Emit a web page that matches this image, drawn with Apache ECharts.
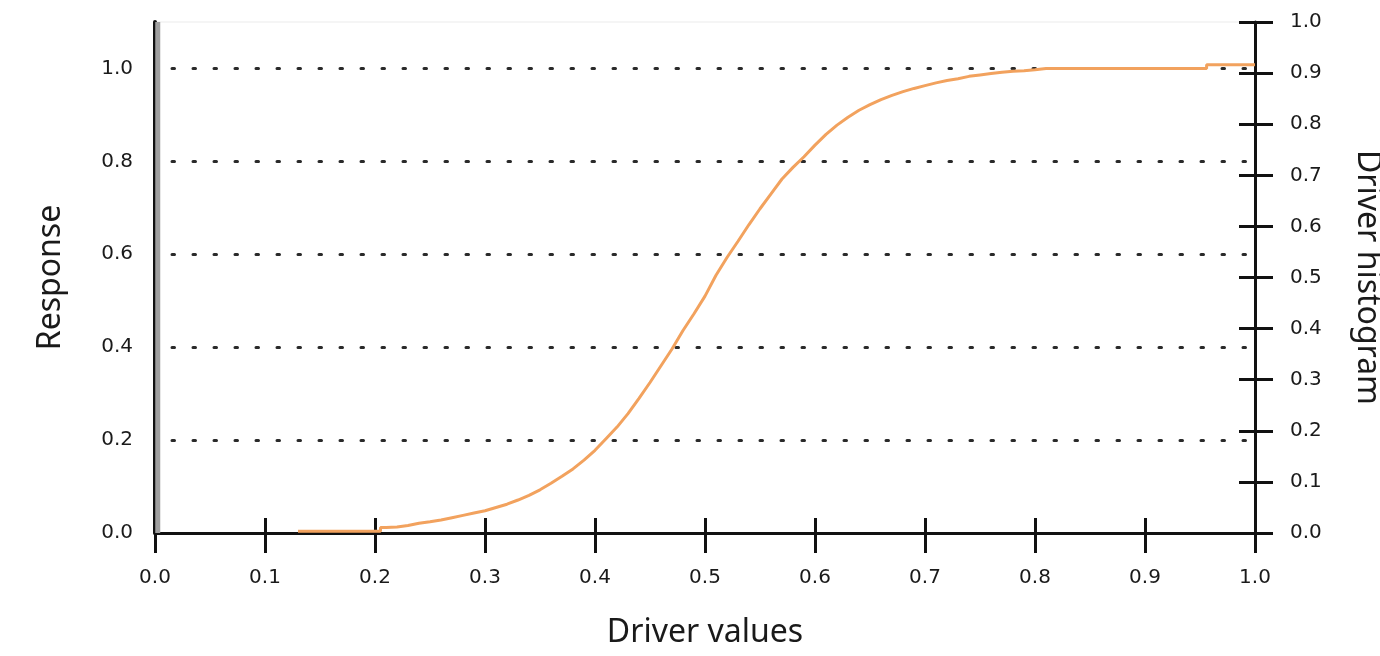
<!DOCTYPE html>
<html>
<head>
<meta charset="utf-8">
<script src="https://cdn.jsdelivr.net/npm/echarts@6/dist/echarts.min.js"></script>
<style>
  html, body { margin: 0; padding: 0; background: #ffffff; }
  #chart { width: 1380px; height: 656px; }
</style>
</head>
<body>
<div id="chart"></div>
<script>
// Response curve: driver value (x) and response (left axis)
const driverValues = [
  0.13, 0.14, 0.15, 0.16, 0.17, 0.18, 0.19, 0.20, 0.205, 0.205,
  0.21, 0.22, 0.23, 0.24, 0.25, 0.26, 0.27, 0.28, 0.29, 0.30,
  0.31, 0.32, 0.33, 0.34, 0.35, 0.36, 0.37, 0.38, 0.39, 0.40,
  0.41, 0.42, 0.43, 0.44, 0.45, 0.46, 0.47, 0.48, 0.49, 0.50,
  0.51, 0.52, 0.53, 0.54, 0.55, 0.56, 0.57, 0.58, 0.59, 0.60,
  0.61, 0.62, 0.63, 0.64, 0.65, 0.66, 0.67, 0.68, 0.69, 0.70,
  0.71, 0.72, 0.73, 0.74, 0.75, 0.76, 0.77, 0.78, 0.79, 0.80,
  0.81, 0.82, 0.83, 0.84, 0.85, 0.86, 0.87, 0.88, 0.89, 0.90,
  0.91, 0.92, 0.93, 0.94, 0.95, 0.956, 0.956, 0.97, 0.98, 0.99,
  1.00
];
const responseValues = [
  0.004, 0.004, 0.004, 0.004, 0.004, 0.004, 0.004, 0.004, 0.004, 0.012,
  0.012, 0.013, 0.016, 0.021, 0.024, 0.028, 0.033, 0.038, 0.043, 0.048,
  0.055, 0.062, 0.071, 0.081, 0.093, 0.107, 0.122, 0.138, 0.157, 0.178,
  0.203, 0.228, 0.257, 0.290, 0.324, 0.360, 0.396, 0.436, 0.472, 0.510,
  0.555, 0.593, 0.628, 0.664, 0.698, 0.730, 0.762, 0.787, 0.810, 0.835,
  0.858, 0.878, 0.895, 0.910, 0.922, 0.933, 0.942, 0.950, 0.957, 0.963,
  0.969, 0.974, 0.978, 0.983, 0.986, 0.989, 0.992, 0.994, 0.995, 0.997,
  1.000, 1.000, 1.000, 1.000, 1.000, 1.000, 1.000, 1.000, 1.000, 1.000,
  1.000, 1.000, 1.000, 1.000, 1.000, 1.000, 1.008, 1.008, 1.008, 1.008,
  1.008
];

// Driver histogram (right axis): bin centres and relative heights
const histBinCenters = [0.0025];
const histHeights = [1.0];

// Tick values
const xTicks = [0.0, 0.1, 0.2, 0.3, 0.4, 0.5, 0.6, 0.7, 0.8, 0.9, 1.0];
const responseTicks = [0.0, 0.2, 0.4, 0.6, 0.8, 1.0];
const histTicks = [0.0, 0.1, 0.2, 0.3, 0.4, 0.5, 0.6, 0.7, 0.8, 0.9, 1.0];

const labelFont = {
  fontFamily: 'DejaVu Sans',
  fontSize: 20,
  color: '#1a1a1a'
};
const titleFont = {
  fontFamily: 'Noto Sans',
  fontSize: 32,
  color: '#1a1a1a'
};
const axisBlack = '#111111';

const chart = echarts.init(document.getElementById('chart'), null, { renderer: 'canvas' });

const fmt1 = v => Number(v).toFixed(1);

chart.setOption({
  backgroundColor: '#ffffff',
  animation: false,
  grid: {
    left: 155, right: 125, top: 22, bottom: 123,
    outerBoundsMode: 'none',
    containLabel: false,
    show: true, borderColor: '#ebebeb', borderWidth: 1, backgroundColor: 'transparent'
  },
  xAxis: [
    {
      type: 'value',
      min: xTicks[0], max: xTicks[xTicks.length - 1],
      interval: xTicks[1] - xTicks[0],
      position: 'bottom',
      name: 'Driver values',
      nameLocation: 'middle',
      nameGap: 84,
      nameTextStyle: titleFont,
      axisLine: { show: true, onZero: false, lineStyle: { color: axisBlack, width: 3 } },
      axisTick: { show: true, inside: false, length: 20, lineStyle: { color: axisBlack, width: 3 } },
      axisLabel: Object.assign({ margin: 35, formatter: fmt1 }, labelFont),
      splitLine: { show: false }
    },
    {
      // inner half of the crossing x ticks
      type: 'value',
      min: xTicks[0], max: xTicks[xTicks.length - 1],
      interval: xTicks[1] - xTicks[0],
      position: 'bottom',
      axisLine: { show: false, onZero: false },
      axisTick: { show: true, inside: true, length: 15, lineStyle: { color: axisBlack, width: 3 } },
      axisLabel: { show: false },
      splitLine: { show: false }
    }
  ],
  yAxis: [
    {
      type: 'value',
      min: responseTicks[0], max: 1.1,
      interval: responseTicks[1] - responseTicks[0],
      position: 'left',
      name: 'Response',
      nameLocation: 'middle',
      nameRotate: 90,
      nameGap: 88,
      nameTextStyle: titleFont,
      axisLine: { show: true, onZero: false, lineStyle: { color: axisBlack, width: 4 } },
      axisTick: { show: false },
      axisLabel: Object.assign({ margin: 22, formatter: fmt1, showMaxLabel: false }, labelFont),
      splitLine: {
        show: true,
        showMinLine: false,
        showMaxLine: false,
        lineStyle: { color: '#2a2a2a', width: 3, type: [2.5, 18.5], dashOffset: 4, cap: 'round' }
      }
    },
    {
      type: 'value',
      min: histTicks[0], max: histTicks[histTicks.length - 1],
      interval: histTicks[1] - histTicks[0],
      position: 'right',
      name: 'Driver histogram',
      nameLocation: 'middle',
      nameRotate: -90,
      nameGap: 96,
      nameTextStyle: titleFont,
      axisLine: { show: true, onZero: false, lineStyle: { color: axisBlack, width: 3 } },
      axisTick: { show: true, inside: false, length: 18, lineStyle: { color: axisBlack, width: 3 } },
      axisLabel: Object.assign({ margin: 35, formatter: fmt1 }, labelFont),
      splitLine: { show: false }
    },
    {
      // inner half of the crossing histogram ticks
      type: 'value',
      min: histTicks[0], max: histTicks[histTicks.length - 1],
      interval: histTicks[1] - histTicks[0],
      position: 'right',
      axisLine: { show: false, onZero: false },
      axisTick: { show: true, inside: true, length: 16, lineStyle: { color: axisBlack, width: 3 } },
      axisLabel: { show: false },
      splitLine: { show: false }
    }
  ],
  series: [
    {
      name: 'Driver histogram',
      type: 'bar',
      xAxisIndex: 0,
      yAxisIndex: 1,
      barWidth: 5,
      data: histBinCenters.map((c, i) => [c, histHeights[i]]),
      itemStyle: { color: '#a0a0a0' },
      z: 1
    },
    {
      name: 'Response',
      type: 'line',
      xAxisIndex: 0,
      yAxisIndex: 0,
      symbol: 'none',
      data: driverValues.map((x, i) => [x, responseValues[i]]),
      lineStyle: { color: '#f2a25e', width: 3 },
      z: 3
    }
  ]
});
</script>
</body>
</html>
